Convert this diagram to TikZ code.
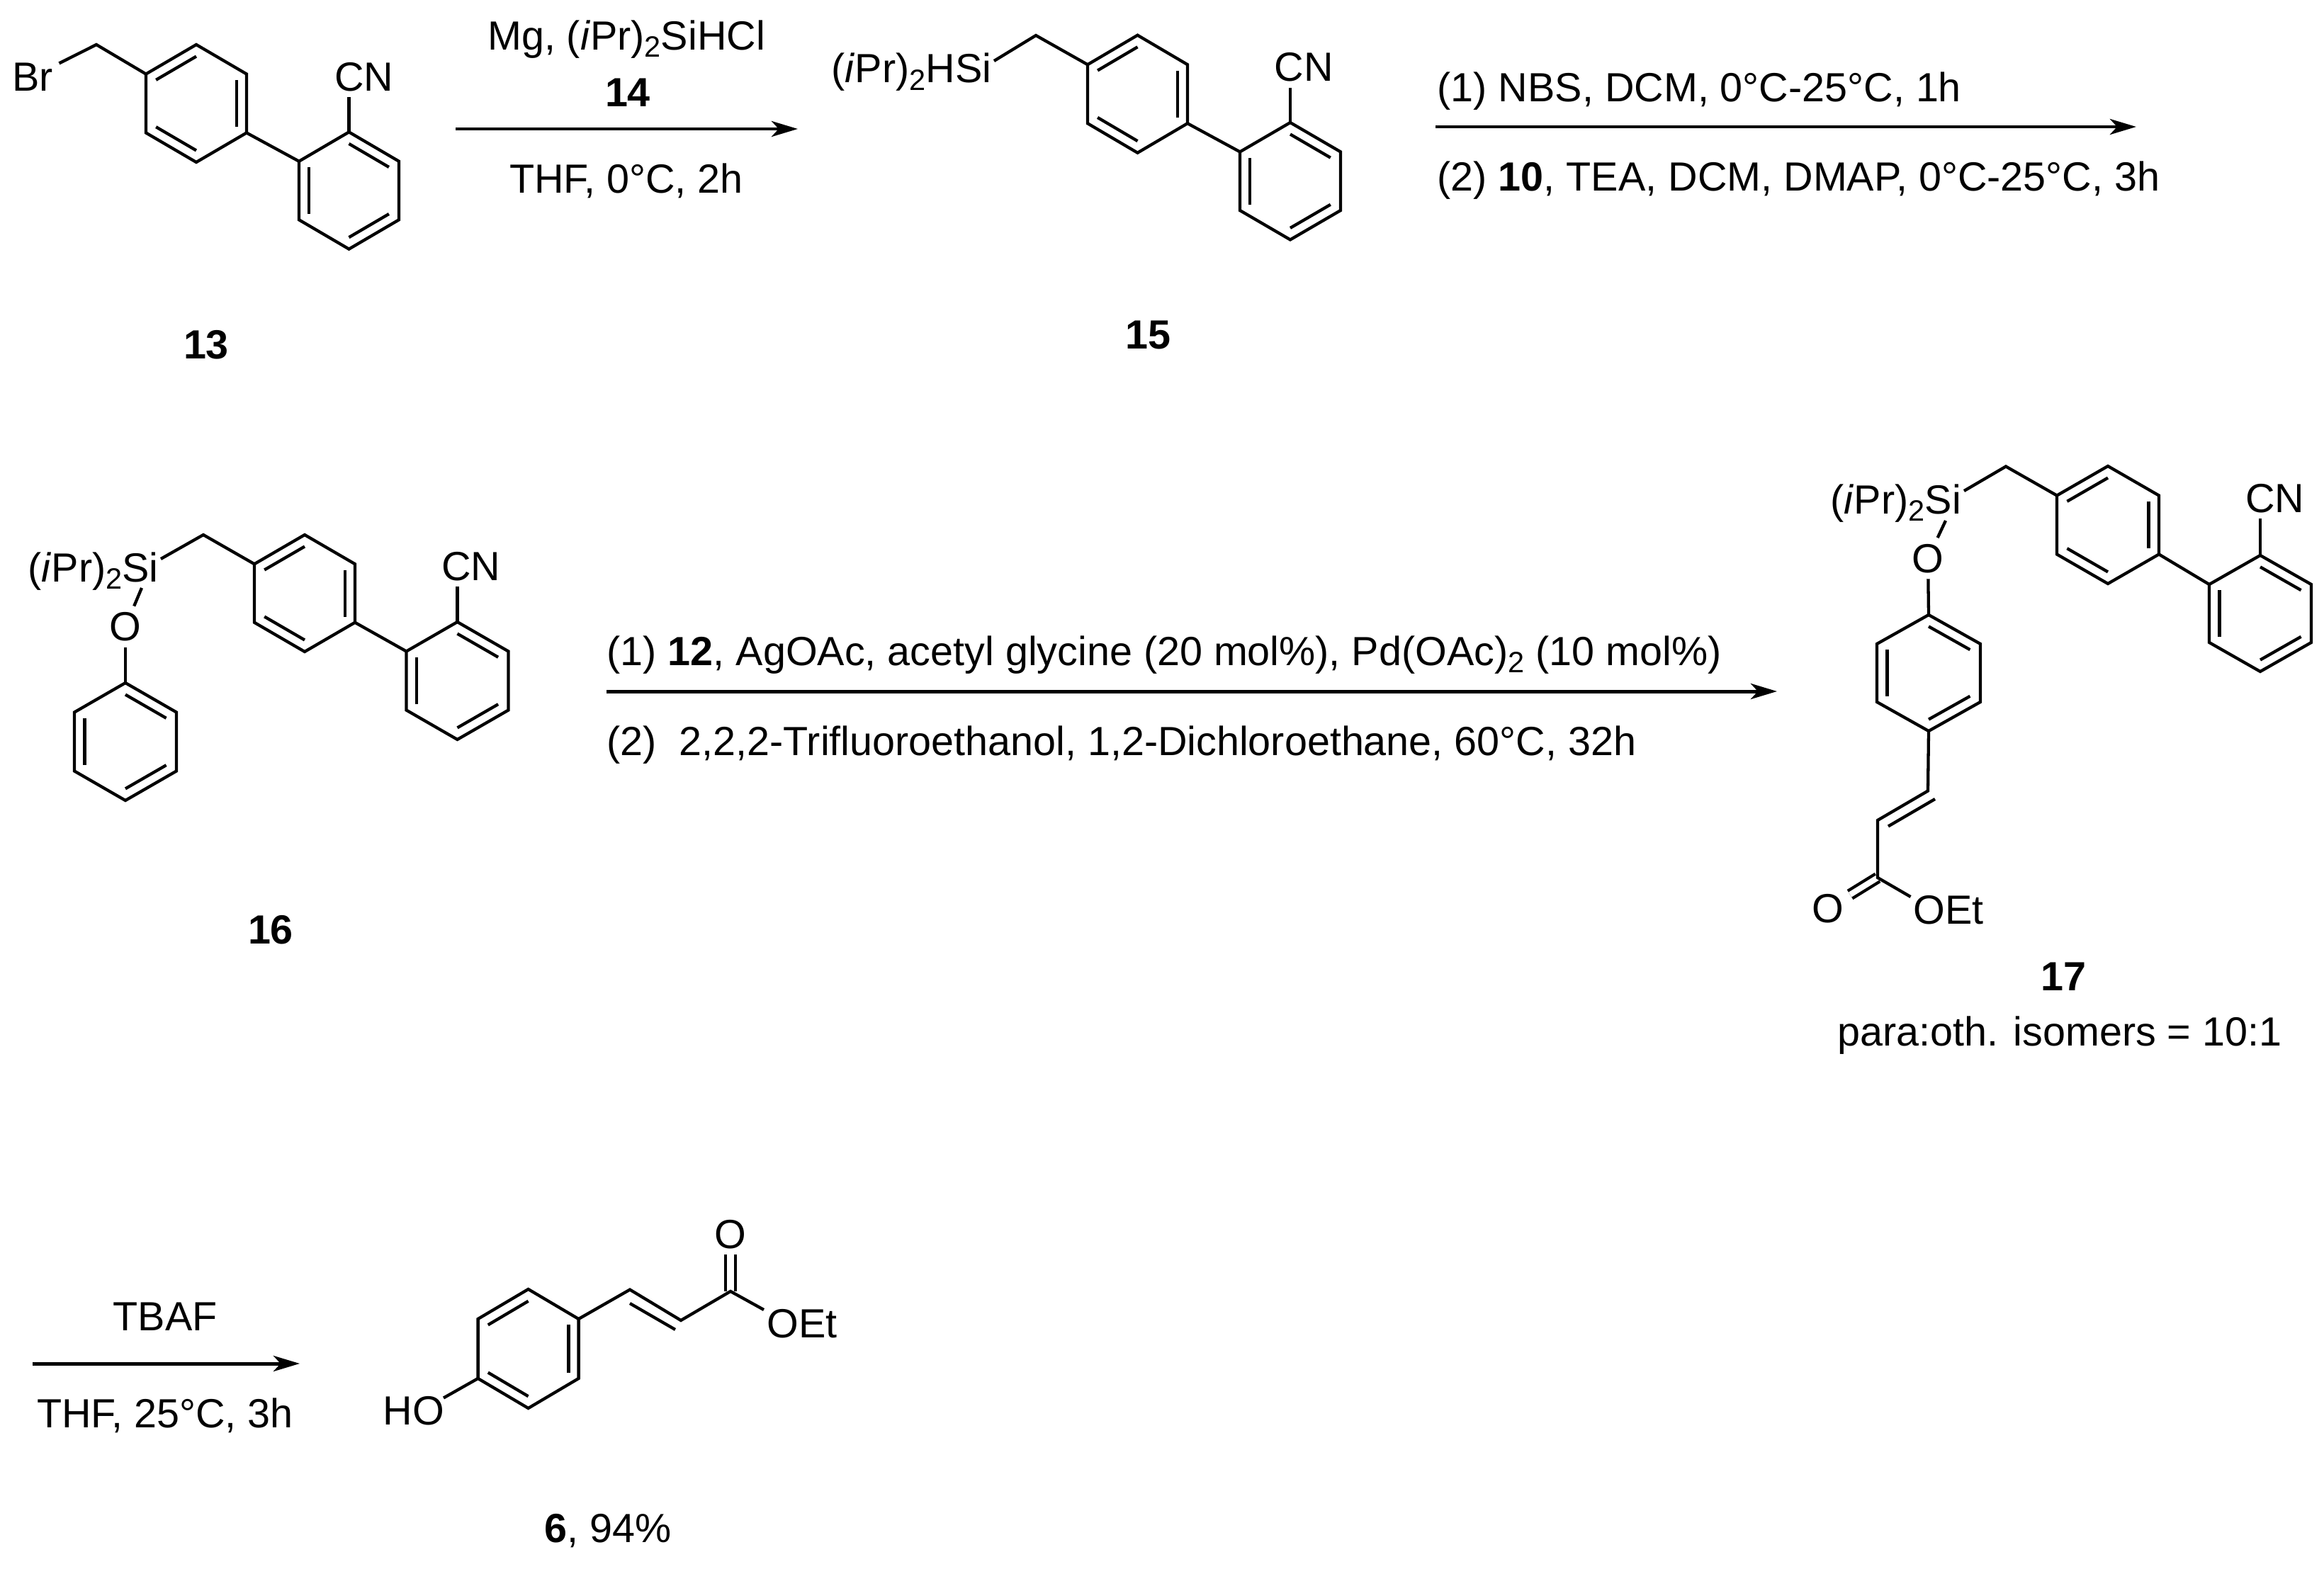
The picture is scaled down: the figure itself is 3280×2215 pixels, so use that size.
\documentclass[tikz,border=0pt]{standalone}
\usepackage{fontspec}
\setmainfont{Liberation Sans}
\usetikzlibrary{calc}
\usetikzlibrary{arrows.meta}
\tikzset{
    bond/.style = {line width=1.22pt,draw=black},
    rxnarrow/.style = {line width=1.42pt,draw=black,-{Stealth[length=3.7mm,width=2.2mm,inset=1mm]}},
    dblbond/.style = {line width=1.22pt,draw=black,double,double distance=0.08cm},
    atom/.style = {inner sep=0.08cm,anchor=base,font=\fontsize{16.35}{18}\selectfont},
    lab/.style = {inner sep=0pt,anchor=base,yshift=-0.02cm,font=\fontsize{16.35}{18}\selectfont},
    labl/.style = {lab,anchor=base west}
}
\newcommand{\subtwo}{\raisebox{-.19em}{\fontsize{11.8}{12}\selectfont 2}}
% ring: name, centre x, centre y, half width, half height, inner double bonds
\newcommand{\ring}[6]{
\coordinate (#1c) at (#2,#3);
\coordinate (#1-1) at ({#2},{#3-#5});
\coordinate (#1-2) at ({#2+#4},{#3-#5/2});
\coordinate (#1-3) at ({#2+#4},{#3+#5/2});
\coordinate (#1-4) at ({#2},{#3+#5});
\coordinate (#1-5) at ({#2-#4},{#3+#5/2});
\coordinate (#1-6) at ({#2-#4},{#3-#5/2});
\draw[bond] (#1-1) -- (#1-2) -- (#1-3) -- (#1-4) -- (#1-5) -- (#1-6) -- cycle;
\foreach \p/\q in {#6} \draw[bond] ($(#1-\p)!.2!(#1c)$) -- ($(#1-\q)!.2!(#1c)$);
}

\begin{document}
\begin{tikzpicture}[x=0.01cm,y=-0.01cm]
\useasboundingbox (0,0) rectangle (3280,2215);

% 13
\ring{a}{277}{146}{71}{83}{6/1,2/3,4/5}
\ring{b}{492.5}{269}{70.5}{82.6}{1/2,3/4,5/6}
\coordinate (ch13) at (136,63);
\node[atom] at (46,128) (br13) {Br};
\node[atom] at (514,128) (cn13) {CN};
\node[lab] at (291,504) (n13) {\textbf{13}};
\draw[bond] (br13) -- (ch13) -- (a-6);
\draw[bond] (a-3) -- (b-6);
\draw[bond] (b-1) -- (cn13.south -| b-1);

% step 1
\coordinate (r1s) at (643,182);
\coordinate (r1e) at (1126,182);
\draw[rxnarrow] (r1s) -- (r1e);
\node[lab] at (884,68) (r1a) {Mg, (\textit{i}Pr)\subtwo SiHCl};
\node[lab] at (886,148) (r1b) {\textbf{14}};
\node[lab] at (884,270) (r1c) {THF, 0°C, 2h};

% 15
\ring{c}{1605.5}{132.7}{70.5}{83}{6/1,2/3,4/5}
\ring{d}{1821}{255.7}{71}{82.7}{1/2,3/4,5/6}
\coordinate (ch15) at (1462,50);
\coordinate (si15b) at (1403,86);
\node[labl] at (1173,114.4) (si15) {(\textit{i}Pr)\subtwo HSi};
\node[atom] at (1840.5,114.4) (cn15) {CN};
\node[lab] at (1620,490) (n15) {\textbf{15}};
\draw[bond] (si15b) -- (ch15) -- (c-6);
\draw[bond] (c-3) -- (d-6);
\draw[bond] (d-1) -- (cn15.south -| d-1);

% step 2
\coordinate (r2s) at (2026,179);
\coordinate (r2e) at (3015,179);
\draw[rxnarrow] (r2s) -- (r2e);
\node[labl] at (2028,141) (r2a) {(1) NBS, DCM, 0°C-25°C, 1h};
\node[labl] at (2028,267) (r2b) {(2) \textbf{10}, TEA, DCM, DMAP, 0°C-25°C, 3h};

% 16
\ring{e}{430}{837.5}{71}{82.5}{6/1,2/3,4/5}
\ring{f}{645.5}{961}{72}{83}{1/2,3/4,5/6}
\ring{g}{177}{1047}{72}{83}{1/2,3/4,5/6}
\coordinate (ch16) at (287,755);
\coordinate (si16b) at (227,789);
\coordinate (si16o) at (200,830);
\node[labl] at (39,819) (si16) {(\textit{i}Pr)\subtwo Si};
\node[atom] at (177,904.5) (o16) {O};
\node[atom] at (665,819) (cn16) {CN};
\node[lab] at (382,1330) (n16) {\textbf{16}};
\draw[bond] (si16b) -- (ch16) -- (e-6);
\draw[bond] (e-3) -- (f-6);
\draw[bond] (f-1) -- (cn16.south -| f-1);
\draw[bond] (si16o) -- (o16);
\draw[bond] (o16) -- (g-1);

% step 3
\coordinate (r3s) at (856,976);
\coordinate (r3e) at (2508,976);
\draw[rxnarrow] (r3s) -- (r3e);
\node[labl] at (856,937) (r3a) {(1) \textbf{12}, AgOAc, acetyl glycine (20 mol\%), Pd(OAc)\subtwo\ (10 mol\%)};
\node[labl] at (856,1064) (r3b) {(2)\ \ 2,2,2-Trifluoroethanol, 1,2-Dichloroethane, 60°C, 32h};

% 17
\ring{h}{2975}{741}{72}{83}{6/1,2/3,4/5}
\ring{i}{3190}{866}{72}{82}{1/2,3/4,5/6}
\ring{j}{2722}{950}{73}{82}{1/2,3/4,5/6}
\coordinate (ch17) at (2831,658.5);
\coordinate (si17b) at (2772,693);
\coordinate (si17o) at (2746,735);
\coordinate (v17a) at (2721,1116.5);
\coordinate (v17b) at (2650,1158);
\coordinate (v17c) at (2731,1128);
\coordinate (v17d) at (2665,1166.5);
\coordinate (c17) at (2650,1239);
\coordinate (oet17b) at (2696.5,1266);
\node[labl] at (2583,723) (si17) {(\textit{i}Pr)\subtwo Si};
\node[atom] at (2721,808) (o17) {O};
\node[atom] at (3210.5,723) (cn17) {CN};
\node[atom] at (2580,1302) (co17) {O};
\node[labl] at (2700,1302) (oet17) {OEt};
\node[lab] at (2912,1396) (n17) {\textbf{17}};
\node[lab] at (2907,1474) (iso17) {para:oth. isomers = 10:1};
\draw[dblbond] (c17) -- (co17);
\draw[bond] (si17b) -- (ch17) -- (h-6);
\draw[bond] (h-3) -- (i-6);
\draw[bond] (i-1) -- (cn17.south -| i-1);
\draw[bond] (si17o) -- (o17);
\draw[bond] (o17) -- (j-1);
\draw[bond] (j-4) -- (v17a) -- (v17b) -- (c17) -- (oet17b);
\draw[bond] (v17c) -- (v17d);

% step 4
\coordinate (r4s) at (45.5,1925);
\coordinate (r4e) at (423,1925);
\draw[rxnarrow] (r4s) -- (r4e);
\node[lab] at (233,1876) (r4a) {TBAF};
\node[lab] at (233,2013) (r4b) {THF, 25°C, 3h};

% 6
\ring{k}{745.6}{1904}{71}{84}{6/1,2/3,4/5}
\coordinate (v6a) at (889,1820.6);
\coordinate (v6b) at (961,1864);
\coordinate (v6c) at (889,1840);
\coordinate (v6d) at (953,1877);
\coordinate (c6) at (1031,1823);
\coordinate (oet6b) at (1078,1849);
\coordinate (ho6b) at (626,1973.5);
\node[atom] at (1031,1762) (co6) {O};
\node[labl] at (1082,1886) (oet6) {OEt};
\node[labl] at (540,2009) (ho6) {HO};
\node[lab] at (858,2175) (n6) {\textbf{6}, 94\%};
\draw[dblbond,double distance=0.1cm] (c6) -- (co6);
\draw[bond] (k-2) -- (v6a) -- (v6b) -- (c6) -- (oet6b);
\draw[bond] (v6c) -- (v6d);
\draw[bond] (k-5) -- (ho6b);

\end{tikzpicture}
\end{document}
